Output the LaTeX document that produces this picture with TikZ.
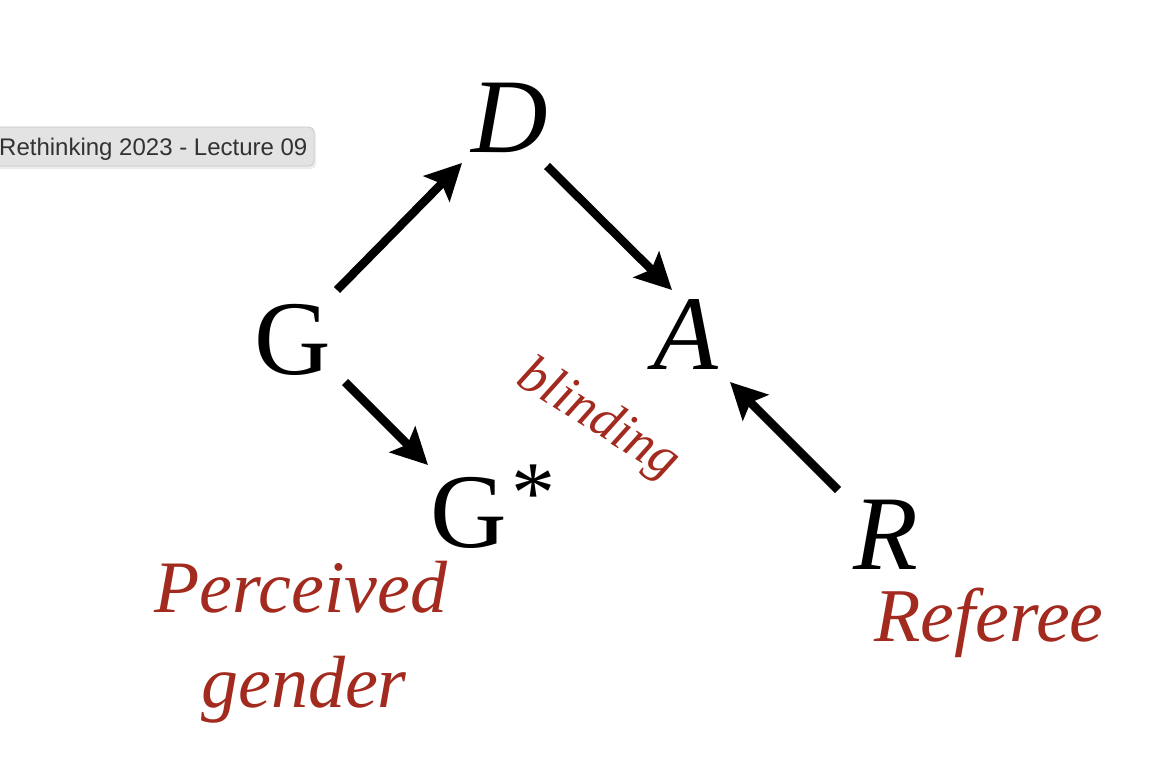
\documentclass[tikz,border=0pt]{standalone}
\usepackage{fontspec}
\setmainfont{Liberation Serif}
\newfontfamily\tipfont{Liberation Sans}
\usetikzlibrary{arrows.meta,calc}
\definecolor{lblred}{RGB}{163,42,30}
\definecolor{tipfill}{RGB}{227,227,227}
\definecolor{tipedge}{RGB}{200,200,200}
\definecolor{tiptext}{RGB}{50,50,50}
\begin{document}
\begin{tikzpicture}[x=1pt,y=-1pt,
  var/.style={inner sep=0pt, font=\fontsize{106}{110}\selectfont},
  ivar/.style={inner sep=0pt, font=\fontsize{106}{110}\selectfont\itshape},
  lab/.style={inner sep=0pt, text=lblred, font=\fontsize{74}{80}\selectfont\itshape},
  arr/.style={line width=8.5pt, -{Stealth[length=36pt,width=36pt,inset=7pt]}},
]
\useasboundingbox (0,0) rectangle (1164,774);
\fill[white] (0,0) rectangle (1164,774);
% tooltip
\fill[black!7, rounded corners=5pt] (-12,129) rectangle (316,169);
\draw[tipedge, fill=tipfill, rounded corners=5pt, line width=0.8pt] (-12,127) rectangle (314,166);
\node[anchor=base west, inner sep=0pt, text=tiptext, font=\tipfont\fontsize{24}{26}\selectfont] (tip) at (-1,155) {Rethinking 2023 - Lecture 09};
% variables
\node[ivar] (D) at (510,118) {D};
\node[var] (G) at (293,340) {G};
\node[ivar] (A) at (686,335) {A};
\node[var, anchor=base west] (Gs) at (430,547) {G\kern5pt\raisebox{25pt}{\fontsize{88}{90}\selectfont *}};
\node[ivar] (R) at (886,535) {R};
% arrows
\draw[arr] ($(G)+(44,-50)$) -- ($(D)+(-48,45)$);
\draw[arr] ($(D)+(37,48)$) -- ($(A)+(-14,-45)$);
\draw[arr] ($(G)+(52,42)$) -- ($(Gs.base west)+(-2,-82)$);
\draw[arr] ($(R)+(-48,-45)$) -- ($(A)+(44,47)$);
% labels
\node[lab, font=\fontsize{54}{58}\selectfont\itshape, rotate=-32] (blind) at (598,420) {blinding};
\node[lab, anchor=base] (perc) at (301,612) {Perceived};
\node[lab, anchor=base] (gend) at (304,707) {gender};
\node[lab, anchor=base west, font=\fontsize{76}{80}\selectfont\itshape] (ref) at (874,641) {Referee};
\end{tikzpicture}
\end{document}
